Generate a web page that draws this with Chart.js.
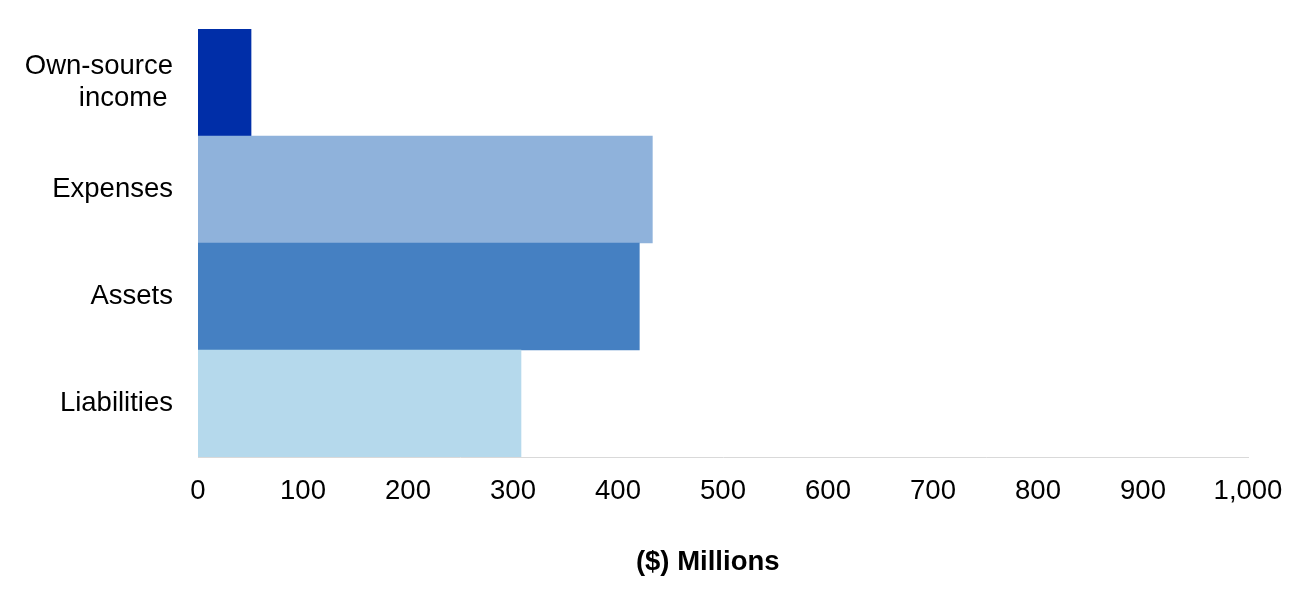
<!DOCTYPE html>
<html>
<head>
<meta charset="utf-8">
<script src="https://cdn.jsdelivr.net/npm/chart.js@4"></script>
<style>
  html, body { margin: 0; padding: 0; background: #fff; }
  #wrap { width: 1307px; height: 600px; }
</style>
</head>
<body>
<div id="wrap"><canvas id="myChart" width="1307" height="600"></canvas></div>
<script>
const categories = [['Own-source', 'income\u2009'], 'Expenses', 'Assets', 'Liabilities'];
const values = [50.5, 432.7, 420.3, 307.6];
const barColors = ['#002EA8', '#8FB2DB', '#4580C2', '#B5D9EC'];
const xTicks = [0, 100, 200, 300, 400, 500, 600, 700, 800, 900, 1000];
const xTitle = '($) Millions    ';

Chart.defaults.font.family = '"Liberation Sans", Arial, sans-serif';
Chart.defaults.color = '#000';

const ctx = document.getElementById('myChart').getContext('2d');
new Chart(ctx, {
  type: 'bar',
  data: {
    labels: categories,
    datasets: [{
      data: values,
      backgroundColor: barColors,
      barPercentage: 1,
      categoryPercentage: 1,
    }],
  },
  options: {
    indexAxis: 'y',
    responsive: false,
    animation: false,
    layout: { padding: { top: 29, left: 0, right: 59, bottom: 14 } },
    plugins: { legend: { display: false }, tooltip: { enabled: false } },
    scales: {
      x: {
        min: 0,
        max: 1000,
        afterBuildTicks: (axis) => { axis.ticks = xTicks.map((v) => ({ value: v })); },
        grid: { display: false, drawTicks: false },
        border: { display: true, color: '#D9D9D9', width: 1 },
        ticks: {
          font: { size: 27.5 },
          padding: 18,
          maxRotation: 0,
          callback: (v) => v.toLocaleString('en-US'),
        },
        title: {
          display: true,
          text: xTitle,
          font: { size: 27.5, weight: 'bold' },
          padding: { top: 23, bottom: 7 },
        },
        afterFit: (axis) => { axis.height = 600 - 457 - 14; axis.paddingLeft = 0; axis.paddingRight = 0; },
      },
      y: {
        grid: { display: false, drawTicks: false },
        border: { display: false },
        ticks: { font: { size: 27.5, lineHeight: 1.18 }, padding: 25 },
        afterFit: (axis) => { axis.width = 198; axis.paddingTop = 0; axis.paddingBottom = 0; },
      },
    },
  },
});
</script>
</body>
</html>
